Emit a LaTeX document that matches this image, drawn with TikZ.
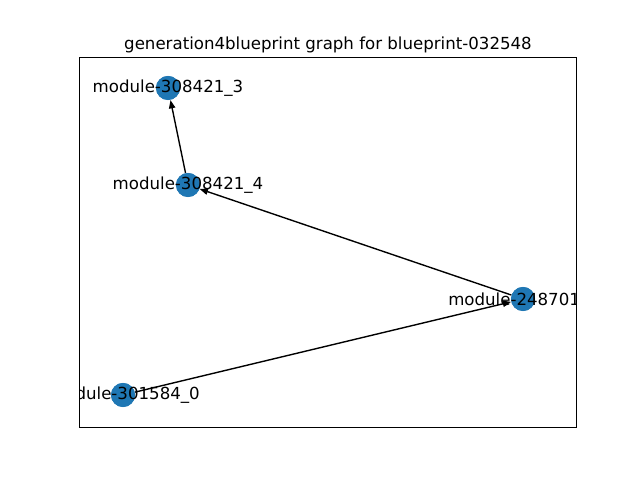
\documentclass[tikz,border=0pt]{standalone}
\usepackage{fontspec}
\setmainfont{DejaVu Sans}
\usetikzlibrary{arrows.meta}
\definecolor{nodeblue}{HTML}{1F77B4}
\tikzset{
  gnode/.style={circle,fill=nodeblue,draw=none,minimum size=0.24in,inner sep=0pt},
  glabel/.style={inner sep=0pt,font=\fontsize{12}{14}\selectfont,text=black},
  gedge/.style={draw=black,line width=1pt,-{Triangle[length=6pt,width=4.5pt]}},
}
\begin{document}
\begin{tikzpicture}[x=0.01in,y=-0.01in]
\useasboundingbox (0,0) rectangle (640,480);
\fill[white] (0,0) rectangle (640,480);
% nodes
\node[gnode] (n3) at (168,88) {};
\node[gnode] (n4) at (188,185) {};
\node[gnode] (n2) at (523,299) {};
\node[gnode] (n0) at (123,395) {};
% edges
\draw[gedge] (n4) -- (n3);
\draw[gedge] (n2) -- (n4);
\draw[gedge] (n0) -- (n2);
% redraw nodes on top of edges
\node[gnode] at (n3) {};
\node[gnode] at (n4) {};
\node[gnode] at (n2) {};
\node[gnode] at (n0) {};
% labels, clipped to axes
\begin{scope}
\clip (80,57.6) rectangle (576,427.2);
\node[glabel] (l3) at (n3) {module-308421\_3};
\node[glabel] (l4) at (n4) {module-308421\_4};
\node[glabel,anchor=west] (l2) at (448,299) {module-248701};
\node[glabel] (l0) at (124.5,395) {module-301584\_0};
\end{scope}
% axes frame
\node[draw=black,line width=0.8pt,minimum width=4.96in,minimum height=3.696in,inner sep=0pt] (ax) at (328,242.4) {};
% title
\node[glabel,anchor=base] (title) at (328,49.5) {generation4blueprint graph for blueprint-032548};
\end{tikzpicture}
\end{document}
